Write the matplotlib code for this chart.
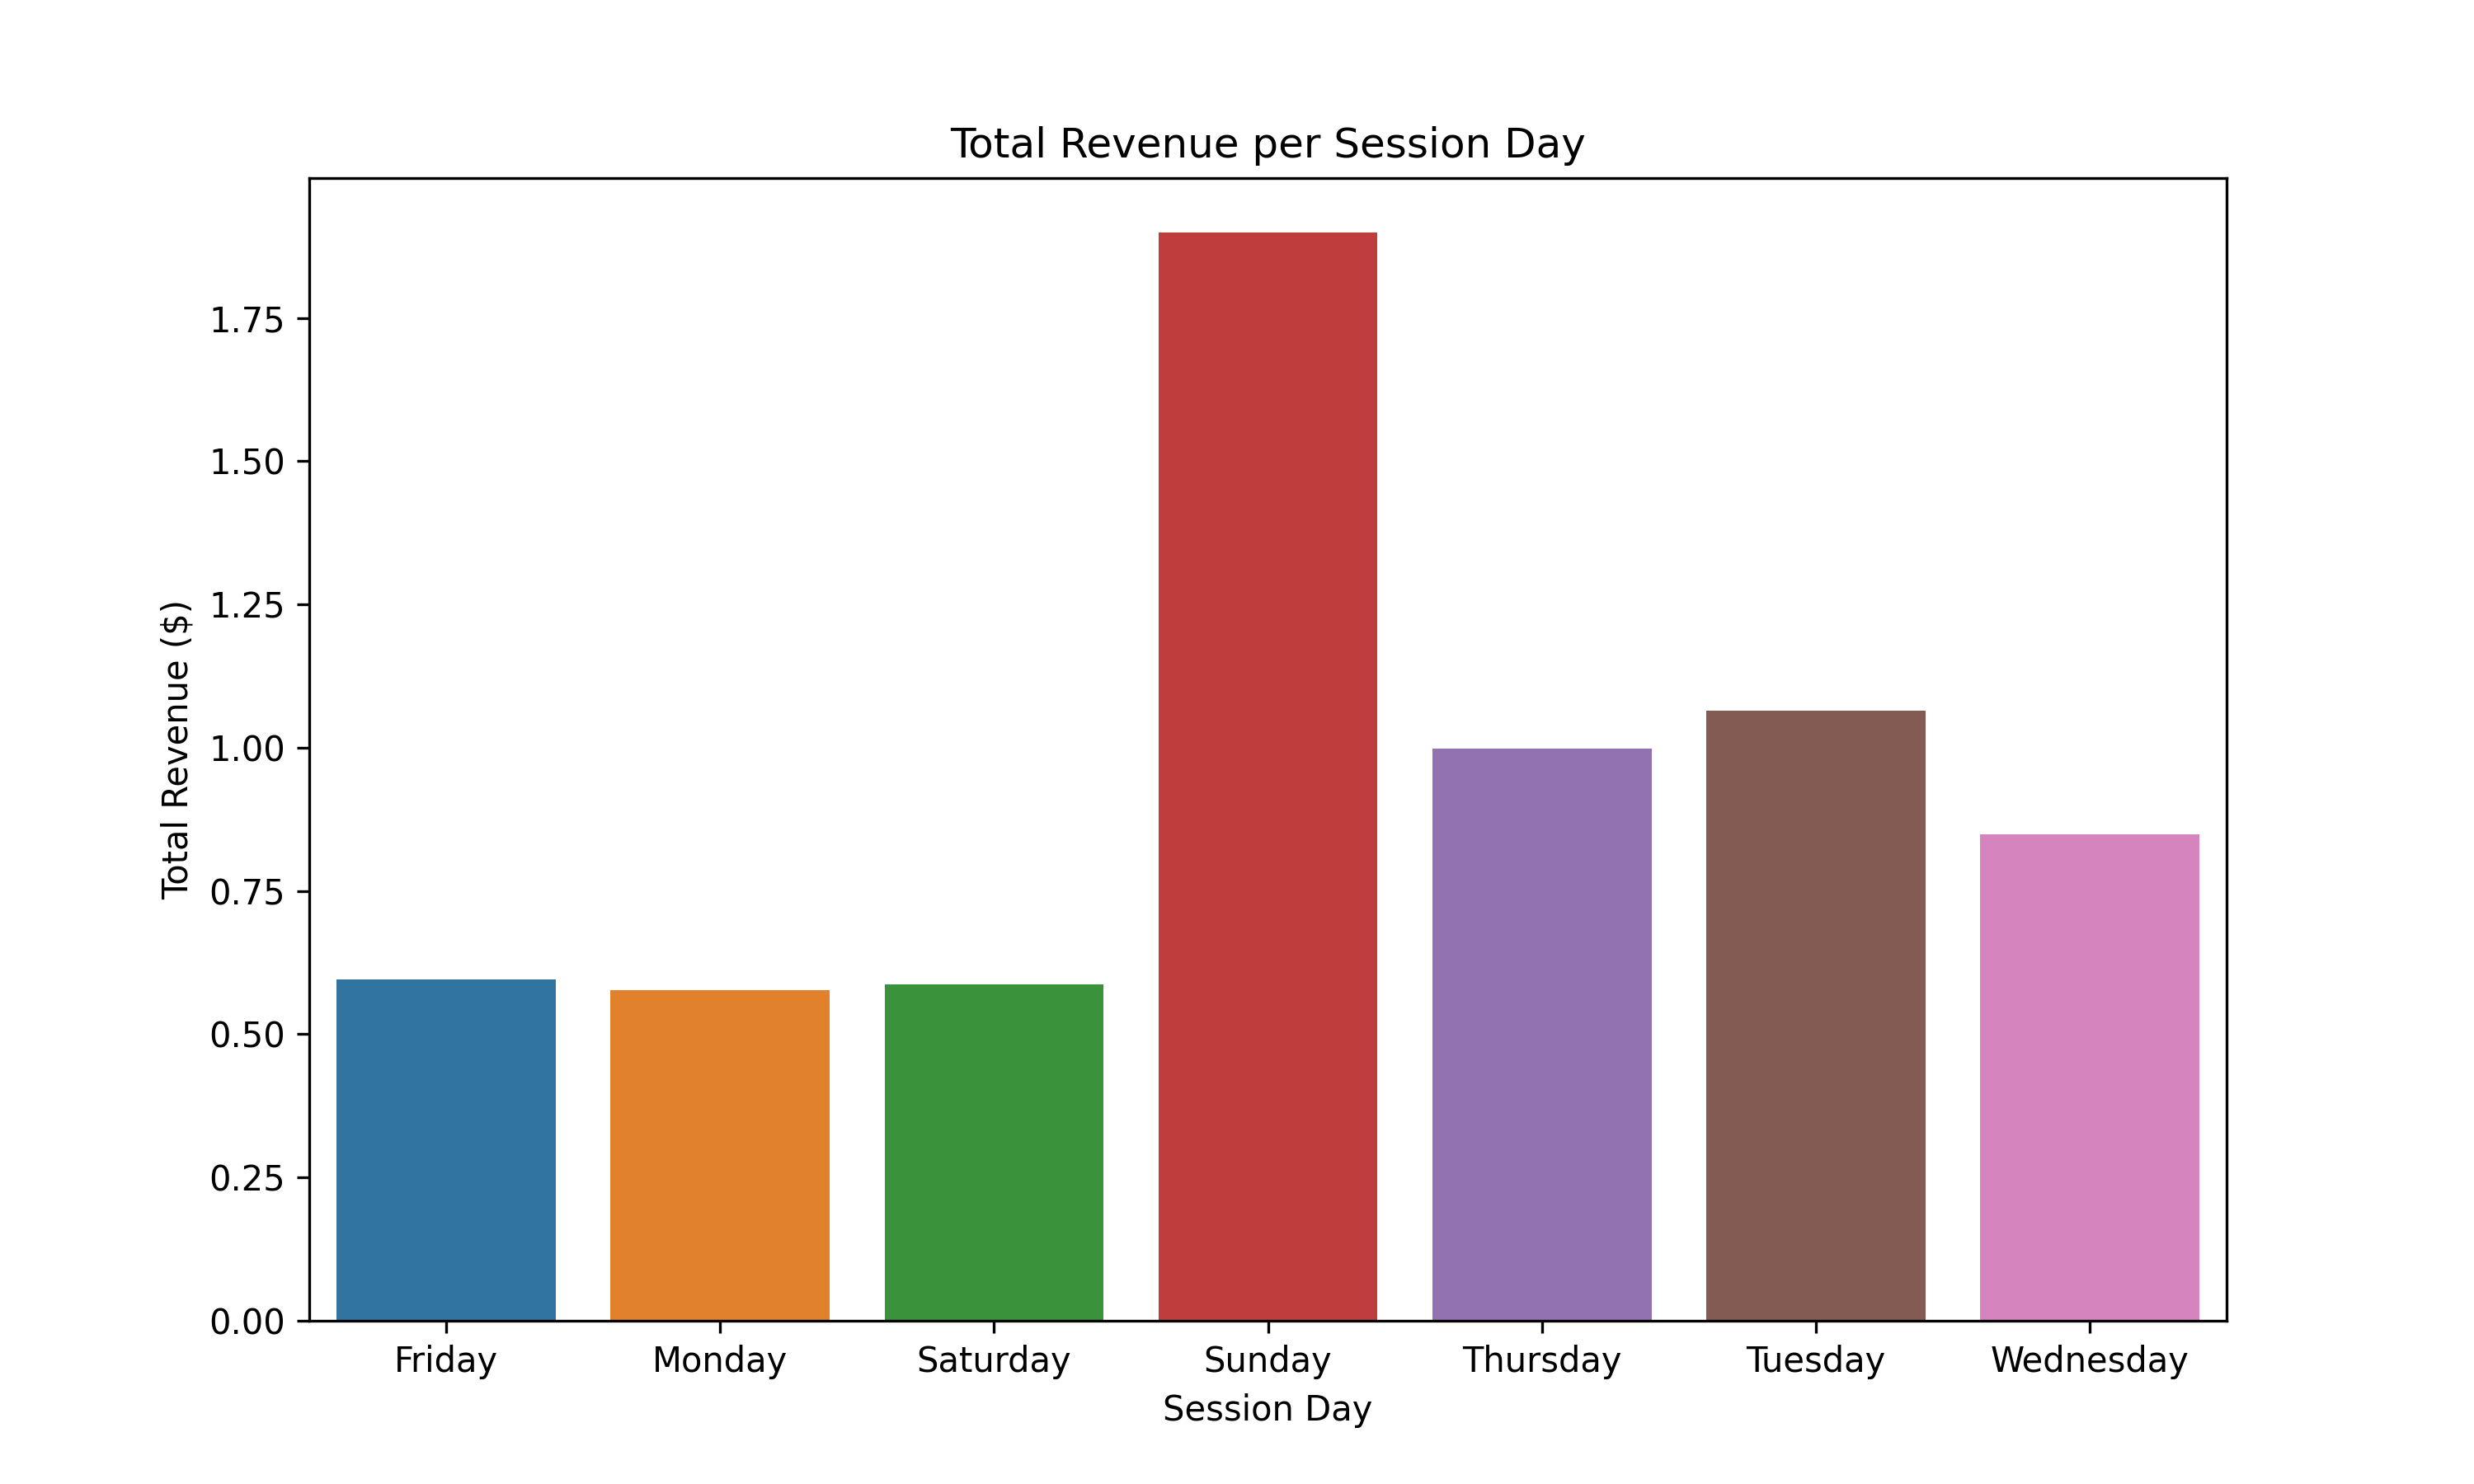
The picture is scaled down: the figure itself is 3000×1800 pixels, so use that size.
import matplotlib
matplotlib.use("Agg")
import matplotlib.pyplot as plt
import seaborn as sns

days = ["Friday", "Monday", "Saturday", "Sunday", "Thursday", "Tuesday", "Wednesday"]
revenue = [0.595, 0.577, 0.587, 1.899, 0.999, 1.065, 0.849]

fig, ax = plt.subplots(figsize=(10, 6), dpi=300)
sns.barplot(x=days, y=revenue, hue=days, palette="tab10", legend=False, ax=ax)
ax.set_title("Total Revenue per Session Day")
ax.set_xlabel("Session Day")
ax.set_ylabel("Total Revenue ($)")
fig.savefig("out.png", dpi=300)
